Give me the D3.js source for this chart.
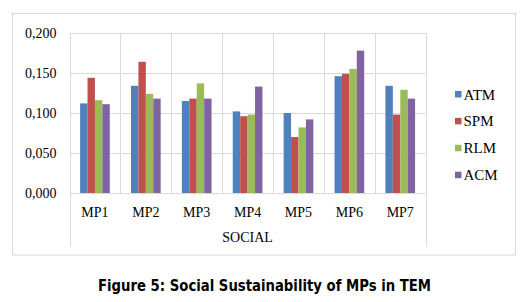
<!DOCTYPE html>
<html>
<head>
<meta charset="utf-8">
<script src="https://cdn.jsdelivr.net/npm/d3@7"></script>
<style>
  body { margin: 0; background: #fff; }
  text { font-family: "Liberation Serif", "Times New Roman", serif; fill: #000; }
</style>
</head>
<body>
<div id="plot"></div>
<script>
// chart data
const categories = ["MP1", "MP2", "MP3", "MP4", "MP5", "MP6", "MP7"];
const seriesNames = ["ATM", "SPM", "RLM", "ACM"];
const atm = [0.112, 0.134, 0.115, 0.102, 0.100, 0.146, 0.134];
const spm = [0.144, 0.164, 0.118, 0.096, 0.070, 0.149, 0.098];
const rlm = [0.116, 0.124, 0.137, 0.098, 0.082, 0.155, 0.129];
const acm = [0.111, 0.118, 0.118, 0.133, 0.092, 0.178, 0.118];
const yTicks = [0, 0.05, 0.1, 0.15, 0.2];
const groupLabel = "SOCIAL";
const caption = "Figure 5: Social Sustainability of MPs in TEM";

const colors = ["#4F81BD", "#C0504D", "#9BBB59", "#8064A2"];
const values = [atm, spm, rlm, acm];

const width = 529, height = 302;
const plot = { left: 69.5, right: 425.7, top: 33, bottom: 193 };
const gridColor = "#D9D9D9";

const svg = d3.select("#plot")
    .append("svg")
    .attr("width", width)
    .attr("height", height);

// outer chart border
svg.append("rect")
    .attr("x", 12.5).attr("y", 13.5)
    .attr("width", 503).attr("height", 241.5)
    .attr("fill", "#fff")
    .attr("stroke", gridColor);

const x = d3.scaleBand()
    .domain(categories)
    .range([plot.left, plot.right]);

const xInner = d3.scaleBand()
    .domain(seriesNames)
    .range([0, x.bandwidth()])
    .paddingOuter(1.43);

const y = d3.scaleLinear()
    .domain([0, 0.2])
    .range([plot.bottom, plot.top]);

const fmt = d => d3.format(".3f")(d).replace(".", ",");

// horizontal gridlines
svg.append("g")
    .selectAll("line")
    .data(yTicks)
    .enter()
    .append("line")
    .attr("x1", plot.left).attr("x2", plot.right)
    .attr("y1", d => Math.round(y(d)) + 0.5)
    .attr("y2", d => Math.round(y(d)) + 0.5)
    .attr("stroke", gridColor);

// vertical category separators
const bounds = categories.map(c => x(c)).concat([plot.right]);
svg.append("g")
    .selectAll("line")
    .data(bounds)
    .enter()
    .append("line")
    .attr("x1", d => Math.round(d) + 0.5)
    .attr("x2", d => Math.round(d) + 0.5)
    .attr("y1", plot.top)
    .attr("y2", (d, i) => (i === 0 || i === bounds.length - 1) ? 246.7 : plot.bottom)
    .attr("stroke", gridColor);

// y tick labels
svg.append("g")
    .selectAll("text")
    .data(yTicks)
    .enter()
    .append("text")
    .attr("x", 56.5)
    .attr("y", d => y(d))
    .attr("dy", "0.35em")
    .attr("text-anchor", "end")
    .style("font-size", "14px")
    .text(fmt);

// bars
seriesNames.forEach((s, si) => {
    svg.append("g")
        .selectAll("rect")
        .data(values[si])
        .enter()
        .append("rect")
        .attr("x", (d, i) => x(categories[i]) + xInner(s))
        .attr("y", d => y(d))
        .attr("width", xInner.bandwidth())
        .attr("height", d => y(0) - y(d))
        .attr("fill", colors[si]);
});

// category labels
svg.append("g")
    .selectAll("text")
    .data(categories)
    .enter()
    .append("text")
    .attr("x", d => x(d) + x.bandwidth() / 2)
    .attr("y", 211.7)
    .attr("dy", "0.35em")
    .attr("text-anchor", "middle")
    .style("font-size", "14px")
    .text(d => d);

svg.append("text")
    .attr("x", (plot.left + plot.right) / 2)
    .attr("y", 237.5)
    .attr("dy", "0.35em")
    .attr("text-anchor", "middle")
    .style("font-size", "14px")
    .text(groupLabel);

// legend
const legend = svg.append("g")
    .selectAll("g")
    .data(seriesNames)
    .enter()
    .append("g")
    .attr("transform", (d, i) => `translate(455, ${94.3 + i * 26.9})`);

legend.append("rect")
    .attr("x", 0).attr("y", -3.3)
    .attr("width", 6.5).attr("height", 6.5)
    .attr("fill", (d, i) => colors[i]);

legend.append("text")
    .attr("x", 8.5)
    .attr("dy", "0.35em")
    .style("font-size", "15px")
    .text(d => d);

// caption
svg.append("text")
    .attr("x", 98)
    .attr("y", 286)
    .attr("dy", "0.35em")
    .attr("textLength", 333)
    .attr("lengthAdjust", "spacingAndGlyphs")
    .style("font-family", "'DejaVu Sans', Verdana, sans-serif")
    .style("font-weight", "bold")
    .style("font-size", "15px")
    .text(caption);
</script>
</body>
</html>
